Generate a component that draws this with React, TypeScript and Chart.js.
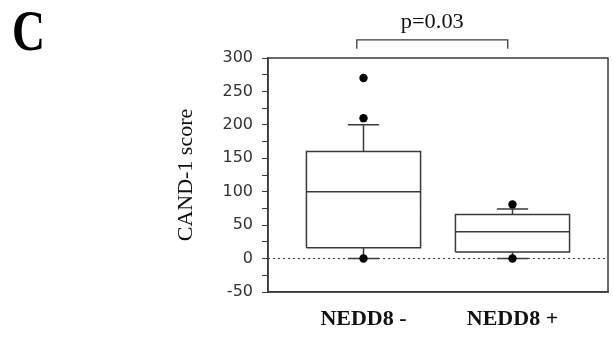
import React, { useEffect, useRef } from "react";
import { Chart, registerables } from "chart.js";

Chart.register(...registerables);

// ---- data ----
const categories = ["NEDD8 -", "NEDD8 +"];
const q1 = [16, 10];
const median = [100, 40];
const q3 = [160, 66];
const whiskerLow = [0, 0];
const whiskerHigh = [200, 74];
const outliers = [
  [270, 210, 0],
  [81, 0],
];
const pValueText = "p=0.03";
const panelLabel = "C";
const yTitle = "CAND-1 score";
const yMin = -50;
const yMax = 300;
const yStep = 25;
const yLabelStep = 50;

// ---- geometry (in scale units) ----
const boxHalf = 0.383;
const capHalf = 0.105;
const xMin = -0.641;
const xMax = 1.641;
const bracketFrom = -0.045;
const bracketTo = 0.968;
const bracketTopValue = 327;
const bracketTickValue = 314;
const pTextBaselineValue = 345;

const INK = "#3a3a3a";

function gap(x: number) {
  return { x, y: null as any };
}

function buildBoxes() {
  const pts: any[] = [];
  categories.forEach((_, i) => {
    pts.push({ x: i - boxHalf, y: q1[i] }, { x: i + boxHalf, y: q1[i] }, { x: i + boxHalf, y: q3[i] }, { x: i - boxHalf, y: q3[i] }, { x: i - boxHalf, y: q1[i] }, gap(i));
  });
  return pts;
}

function buildMedians() {
  const pts: any[] = [];
  categories.forEach((_, i) => {
    pts.push({ x: i - boxHalf, y: median[i] }, { x: i + boxHalf, y: median[i] }, gap(i));
  });
  return pts;
}

function buildWhiskers() {
  const pts: any[] = [];
  categories.forEach((_, i) => {
    pts.push({ x: i, y: q3[i] }, { x: i, y: whiskerHigh[i] }, gap(i));
    pts.push({ x: i - capHalf, y: whiskerHigh[i] }, { x: i + capHalf, y: whiskerHigh[i] }, gap(i));
    pts.push({ x: i, y: q1[i] }, { x: i, y: whiskerLow[i] }, gap(i));
    pts.push({ x: i - capHalf, y: whiskerLow[i] }, { x: i + capHalf, y: whiskerLow[i] }, gap(i));
  });
  return pts;
}

function buildOutliers() {
  const pts: any[] = [];
  outliers.forEach((arr, i) => arr.forEach((v) => pts.push({ x: i, y: v })));
  return pts;
}

const decorPlugin = {
  id: "decor",
  afterDraw(chart: any) {
    const { ctx, chartArea, scales } = chart;
    const xs = scales.x;
    const ys = scales.y;
    ctx.save();
    // plot frame
    ctx.strokeStyle = INK;
    ctx.lineWidth = 1.5;
    ctx.strokeRect(chartArea.left, chartArea.top, chartArea.right - chartArea.left, chartArea.bottom - chartArea.top);

    // bracket
    const xl = xs.getPixelForValue(bracketFrom);
    const xr = xs.getPixelForValue(bracketTo);
    const yt = ys.getPixelForValue(bracketTopValue);
    const yb = ys.getPixelForValue(bracketTickValue);
    ctx.lineWidth = 1.3;
    ctx.beginPath();
    ctx.moveTo(xl, yb);
    ctx.lineTo(xl, yt);
    ctx.lineTo(xr, yt);
    ctx.lineTo(xr, yb);
    ctx.stroke();

    // p value text
    ctx.fillStyle = "#111";
    ctx.textAlign = "center";
    ctx.textBaseline = "alphabetic";
    ctx.save();
    ctx.translate((xl + xr) / 2, ys.getPixelForValue(pTextBaselineValue));
    ctx.scale(1.12, 1);
    ctx.font = "20px 'Liberation Serif', serif";
    ctx.fillText(pValueText, 0, 0);
    ctx.restore();

    // panel label
    ctx.save();
    ctx.translate(12, 50);
    ctx.scale(0.88, 1.08);
    ctx.textAlign = "left";
    ctx.font = "bold 52px 'Liberation Serif', serif";
    ctx.fillStyle = "#000";
    ctx.fillText(panelLabel, 0, 0);
    ctx.restore();

    ctx.restore();
  },
};

export default function App() {
  const ref = useRef<HTMLCanvasElement | null>(null);

  useEffect(() => {
    document.body.style.margin = "0";
    const canvas = ref.current;
    if (!canvas) return;
    const lineCommon = {
      type: "line" as const,
      borderColor: INK,
      borderWidth: 1.5,
      pointRadius: 0,
      spanGaps: false,
      tension: 0,
      fill: false,
    };
    const chart = new Chart(canvas, {
      type: "line",
      data: {
        datasets: [
          {
            ...lineCommon,
            label: "outliers",
            data: buildOutliers(),
            showLine: false,
            pointRadius: 4.2,
            pointBackgroundColor: "#000",
            pointBorderColor: "#000",
            pointBorderWidth: 0,
            order: 0,
          } as any,
          { ...lineCommon, label: "boxes", data: buildBoxes(), order: 1 },
          { ...lineCommon, label: "medians", data: buildMedians(), order: 1 },
          { ...lineCommon, label: "whiskers", data: buildWhiskers(), order: 1 },
          {
            ...lineCommon,
            label: "zero",
            data: [
              { x: xMin, y: 0 },
              { x: xMax, y: 0 },
            ],
            borderWidth: 1,
            borderDash: [2, 3],
            borderColor: "#333",
            order: 3,
          },
        ],
      },
      options: {
        responsive: false,
        animation: false,
        events: [],
        layout: { padding: { left: 173, right: 5, top: 58, bottom: 0 } },
        plugins: { legend: { display: false }, tooltip: { enabled: false } },
        scales: {
          x: {
            type: "linear",
            min: xMin,
            max: xMax,
            grid: { display: false, drawTicks: false },
            border: { display: true, color: INK, width: 1.5 },
            afterBuildTicks: (scale: any) => {
              scale.ticks = categories.map((_, i) => ({ value: i }));
            },
            afterFit: (scale: any) => {
              scale.height = 47;
            },
            ticks: {
              padding: 14,
              autoSkip: false,
              maxRotation: 0,
              color: "#111",
              font: { family: "'Liberation Serif', serif", size: 22, weight: "bold" },
              callback: (v: any) => categories[Math.round(Number(v))] ?? "",
            },
          },
          y: {
            type: "linear",
            min: yMin,
            max: yMax,
            afterFit: (scale: any) => {
              scale.width = 95;
            },
            grid: { display: true, drawOnChartArea: false, drawTicks: true, tickLength: 6, color: INK, lineWidth: 1 },
            border: { display: true, color: INK, width: 1.5 },
            title: {
              display: true,
              text: yTitle,
              color: "#111",
              padding: { top: 0, bottom: 0 },
              font: { family: "'Liberation Serif', serif", size: 22 },
            },
            ticks: {
              stepSize: yStep,
              padding: 9,
              autoSkip: false,
              color: "#333",
              font: { family: "'DejaVu Sans', sans-serif", size: 16 },
              callback: (v: any) => (Number(v) % yLabelStep === 0 ? String(v) : ""),
            },
          },
        },
      } as any,
      plugins: [decorPlugin],
    });
    return () => chart.destroy();
  }, []);

  return (
    <div style={{ position: "absolute", left: 0, top: 0, width: 613, height: 339, background: "#fff" }}>
      <canvas ref={ref} width={613} height={339} style={{ display: "block" }} />
    </div>
  );
}
